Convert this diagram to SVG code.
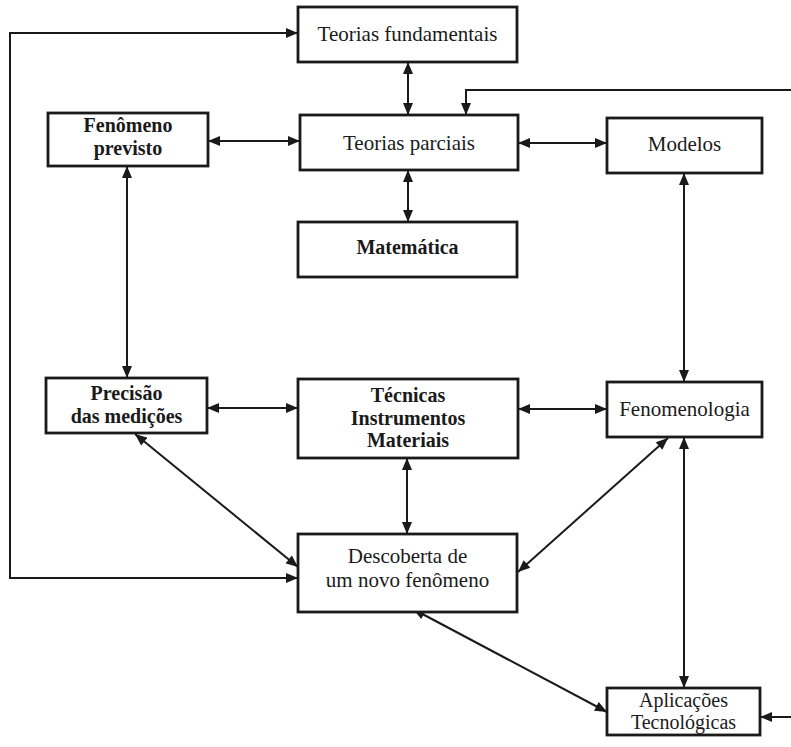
<svg xmlns="http://www.w3.org/2000/svg" width="791" height="747" viewBox="0 0 791 747">
<defs>
<style>
.box{fill:#fff;stroke:#1a1a1a;stroke-width:2.8}
.t{font-family:"Liberation Serif","DejaVu Serif",serif;font-size:21px;fill:#1a1a1a;text-anchor:middle}
.b{font-weight:bold;font-size:20px}
.s{font-size:20px}
.c{fill:none;stroke:#1a1a1a;stroke-width:2}
</style>
<marker id="ah" viewBox="0 0 12 10" refX="12" refY="5" markerWidth="13" markerHeight="10" markerUnits="userSpaceOnUse" orient="auto-start-reverse">
<path d="M0,0 L12,5 L0,10 Z" fill="#1a1a1a"/>
</marker>
</defs>
<rect width="791" height="747" fill="#fff"/>
<g id="connectors">
<path class="c" d="M298,33 H10 V578 H298" marker-start="url(#ah)" marker-end="url(#ah)"/>
<path class="c" d="M791,90 H466 V115" marker-end="url(#ah)"/>
<line class="c" x1="408" y1="62" x2="408" y2="115" marker-start="url(#ah)" marker-end="url(#ah)"/>
<line class="c" x1="208" y1="141" x2="300" y2="141" marker-start="url(#ah)" marker-end="url(#ah)"/>
<line class="c" x1="518" y1="143" x2="607" y2="143" marker-start="url(#ah)" marker-end="url(#ah)"/>
<line class="c" x1="408" y1="170" x2="408" y2="222" marker-start="url(#ah)" marker-end="url(#ah)"/>
<line class="c" x1="127" y1="166" x2="127" y2="378" marker-start="url(#ah)" marker-end="url(#ah)"/>
<line class="c" x1="684" y1="173" x2="684" y2="382" marker-start="url(#ah)" marker-end="url(#ah)"/>
<line class="c" x1="207" y1="408" x2="298" y2="408" marker-start="url(#ah)" marker-end="url(#ah)"/>
<line class="c" x1="518" y1="409" x2="607" y2="409" marker-start="url(#ah)" marker-end="url(#ah)"/>
<line class="c" x1="407" y1="458" x2="407" y2="534" marker-start="url(#ah)" marker-end="url(#ah)"/>
<line class="c" x1="135" y1="434" x2="298" y2="567" marker-start="url(#ah)" marker-end="url(#ah)"/>
<line class="c" x1="668" y1="438" x2="518" y2="572" marker-start="url(#ah)" marker-end="url(#ah)"/>
<line class="c" x1="684" y1="437" x2="684" y2="688" marker-start="url(#ah)" marker-end="url(#ah)"/>
<line class="c" x1="413" y1="609" x2="607" y2="712" marker-start="url(#ah)" marker-end="url(#ah)"/>
<line class="c" x1="791" y1="717" x2="760" y2="717" marker-end="url(#ah)"/>
</g>
<g id="teorias-fundamentais"><rect class="box" x="298" y="7" width="219" height="55"/><text class="t" x="407.5" y="41">Teorias fundamentais</text></g>
<g id="teorias-parciais"><rect class="box" x="300" y="115" width="218" height="55"/><text class="t" x="409" y="150">Teorias parciais</text></g>
<g id="fenomeno-previsto"><rect class="box" x="48" y="113" width="160" height="53"/><text class="t b" x="128" y="132">Fenômeno</text><text class="t b" x="128" y="155">previsto</text></g>
<g id="modelos"><rect class="box" x="607" y="118" width="155" height="55"/><text class="t" x="684.5" y="151">Modelos</text></g>
<g id="matematica"><rect class="box" x="298" y="222" width="219" height="55"/><text class="t b" x="407.5" y="254">Matemática</text></g>
<g id="precisao"><rect class="box" x="46" y="378" width="161" height="55"/><text class="t b" x="126.5" y="400">Precisão</text><text class="t b" x="126.5" y="423">das medições</text></g>
<g id="tecnicas"><rect class="box" x="298" y="379" width="220" height="79"/><text class="t b" x="408" y="402">Técnicas</text><text class="t b" x="408" y="424.5">Instrumentos</text><text class="t b" x="408" y="447">Materiais</text></g>
<g id="fenomenologia"><rect class="box" x="607" y="382" width="155" height="55"/><text class="t" x="684.5" y="416">Fenomenologia</text></g>
<g id="descoberta"><rect class="box" x="298" y="534" width="219" height="78"/><text class="t" x="407.5" y="563">Descoberta de</text><text class="t" x="407.5" y="587">um novo fenômeno</text></g>
<g id="aplicacoes"><rect class="box" x="607" y="688" width="153" height="47"/><text class="t s" x="683.5" y="707">Aplicações</text><text class="t s" x="683.5" y="729">Tecnológicas</text></g>
</svg>
